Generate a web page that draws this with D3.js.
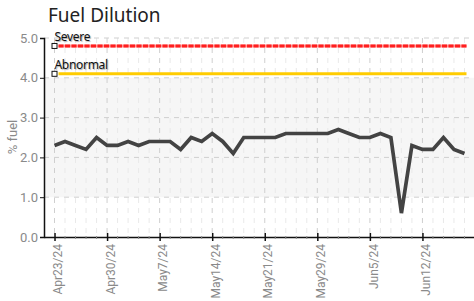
<!DOCTYPE html>
<html><head><meta charset="utf-8">
<script src="https://cdn.jsdelivr.net/npm/d3@7"></script>
<style>
html,body{margin:0;padding:0;background:#fff;}
svg{display:block;}
</style></head>
<body>
<script>
// ---- data ----
const title = "Fuel Dilution";
const yLabel = "% fuel";
const sampleIndex = d3.range(40); // sample sequence numbers (categorical x)
const fuelValues = [2.3,2.4,2.3,2.2,2.5,2.3,2.3,2.4,2.3,2.4,
                    2.4,2.4,2.2,2.5,2.4,2.6,2.4,2.1,2.5,2.5,
                    2.5,2.5,2.6,2.6,2.6,2.6,2.6,2.7,2.6,2.5,
                    2.5,2.6,2.5,0.6,2.3,2.2,2.2,2.5,2.2,2.1];
const tickIndex = [0,5,10,15,20,25,30,35];
const tickLabels = ["Apr23/24","Apr30/24","May7/24","May14/24","May21/24","May29/24","Jun5/24","Jun12/24"];
const yTicks = [0,1,2,3,4,5];
const limitNames = ["Severe","Abnormal"];
const limitValues = [4.8,4.1];
const limitColors = ["#ff1f1f","#ffcc00"];
const normalBand = [1.0,4.0];

// ---- layout ----
const W=474,H=301;
const L=44,R=475,T=38,B=237;
const FONT="Roboto, sans-serif";
const svg=d3.select("body").append("svg").attr("width",W).attr("height",H);

const x=d3.scalePoint().domain(sampleIndex).range([L,R]).padding(1);
const y=d3.scaleLinear().domain([0,5]).range([B,T]);

// normal band
svg.append("rect").attr("x",L).attr("width",R-L)
  .attr("y",y(normalBand[1])).attr("height",y(normalBand[0])-y(normalBand[1]))
  .attr("fill","#f6f6f6");

// vertical grid
const g=svg.append("g");
g.selectAll("line.vg").data(sampleIndex).join("line")
  .attr("x1",d=>x(d)).attr("x2",d=>x(d)).attr("y1",T).attr("y2",B)
  .attr("stroke",d=>tickIndex.includes(d)?"#cfcfcf":"#e9e9e9")
  .attr("stroke-width",1).attr("stroke-dasharray","5,5");
// horizontal grid
g.selectAll("line.hg").data(yTicks.filter(d=>d>0)).join("line")
  .attr("x1",L).attr("x2",R-6).attr("y1",d=>y(d)).attr("y2",d=>y(d))
  .attr("stroke","#cfcfcf").attr("stroke-width",1).attr("stroke-dasharray","5,5");

// limit lines
limitValues.forEach((v,i)=>{
  const x0=x(sampleIndex[0])+4, x1=x(sampleIndex[sampleIndex.length-1])+2;
  if(i===0){
    svg.append("line").attr("x1",x0).attr("x2",x1).attr("y1",y(v)).attr("y2",y(v))
      .attr("stroke","#ff9a9a").attr("stroke-width",3);
    svg.append("line").attr("x1",x0).attr("x2",x1).attr("y1",y(v)).attr("y2",y(v))
      .attr("stroke",limitColors[i]).attr("stroke-width",3).attr("stroke-dasharray","5,1.5");
  } else {
    svg.append("line").attr("x1",x0).attr("x2",x1).attr("y1",y(v)).attr("y2",y(v))
      .attr("stroke",limitColors[i]).attr("stroke-width",3);
  }
  svg.append("rect").attr("x",x(sampleIndex[0])-2.5).attr("y",y(v)-2.5)
    .attr("width",5).attr("height",5).attr("fill","#fff").attr("stroke","#111").attr("stroke-width",1);
  svg.append("text").attr("x",x(sampleIndex[0])).attr("y",y(v)-5)
    .attr("fill","#111").attr("font-family","Noto Sans, sans-serif").attr("font-size",12)
    .attr("letter-spacing","-0.3").style("text-shadow","1px 1px 1px #b0b0b0").text(limitNames[i]);
});

// data line
svg.append("path").datum(fuelValues)
  .attr("fill","none").attr("stroke","#434343").attr("stroke-width",3.7)
  .attr("stroke-linejoin","miter")
  .attr("d",d3.line().x((d,i)=>x(sampleIndex[i])).y(d=>y(d)));

// y axis
const ya=svg.append("g").attr("transform",`translate(${L},0)`)
  .call(d3.axisLeft(y).tickValues(yTicks).tickFormat(d3.format(".1f")).tickSize(4).tickPadding(2));
ya.attr("font-family",FONT);
ya.select(".domain").attr("stroke","#111").attr("stroke-width",1.5);
ya.selectAll(".tick line").attr("stroke","#111");
ya.selectAll(".tick text").attr("fill","#8a8a8a").attr("font-size",13);

// x axis
const xa=svg.append("g").attr("transform",`translate(0,${B})`)
  .call(d3.axisBottom(x).tickValues(tickIndex).tickFormat((d,i)=>tickLabels[i]).tickSize(4).tickSizeOuter(0));
xa.attr("font-family",FONT);
xa.select(".domain").attr("stroke","#111").attr("stroke-width",1.5);
xa.selectAll(".tick line").attr("stroke","#111").attr("stroke-width",1.5).attr("y1",-4);
xa.selectAll(".tick text").attr("fill","#8a8a8a").attr("font-size",12)
  .attr("transform","rotate(-90)").attr("text-anchor","end").attr("dy","0.6em").attr("x",-7).attr("y",0);

// minor x ticks
svg.append("g").selectAll("line").data(sampleIndex.filter(d=>!tickIndex.includes(d))).join("line")
  .attr("x1",d=>x(d)).attr("x2",d=>x(d)).attr("y1",B-1).attr("y2",B+2)
  .attr("stroke","#888").attr("stroke-width",1);

// title
svg.append("text").attr("x",48).attr("y",22).attr("font-family","Noto Sans, sans-serif")
  .attr("font-size",19).attr("fill","#222").text(title);

// y label
svg.append("text").attr("transform",`translate(12,137) rotate(-90)`)
  .attr("text-anchor","middle").attr("dy","0.35em").attr("font-family",FONT)
  .attr("fill","#8a8a8a").attr("font-size",13).text(yLabel);
</script>
</body></html>
